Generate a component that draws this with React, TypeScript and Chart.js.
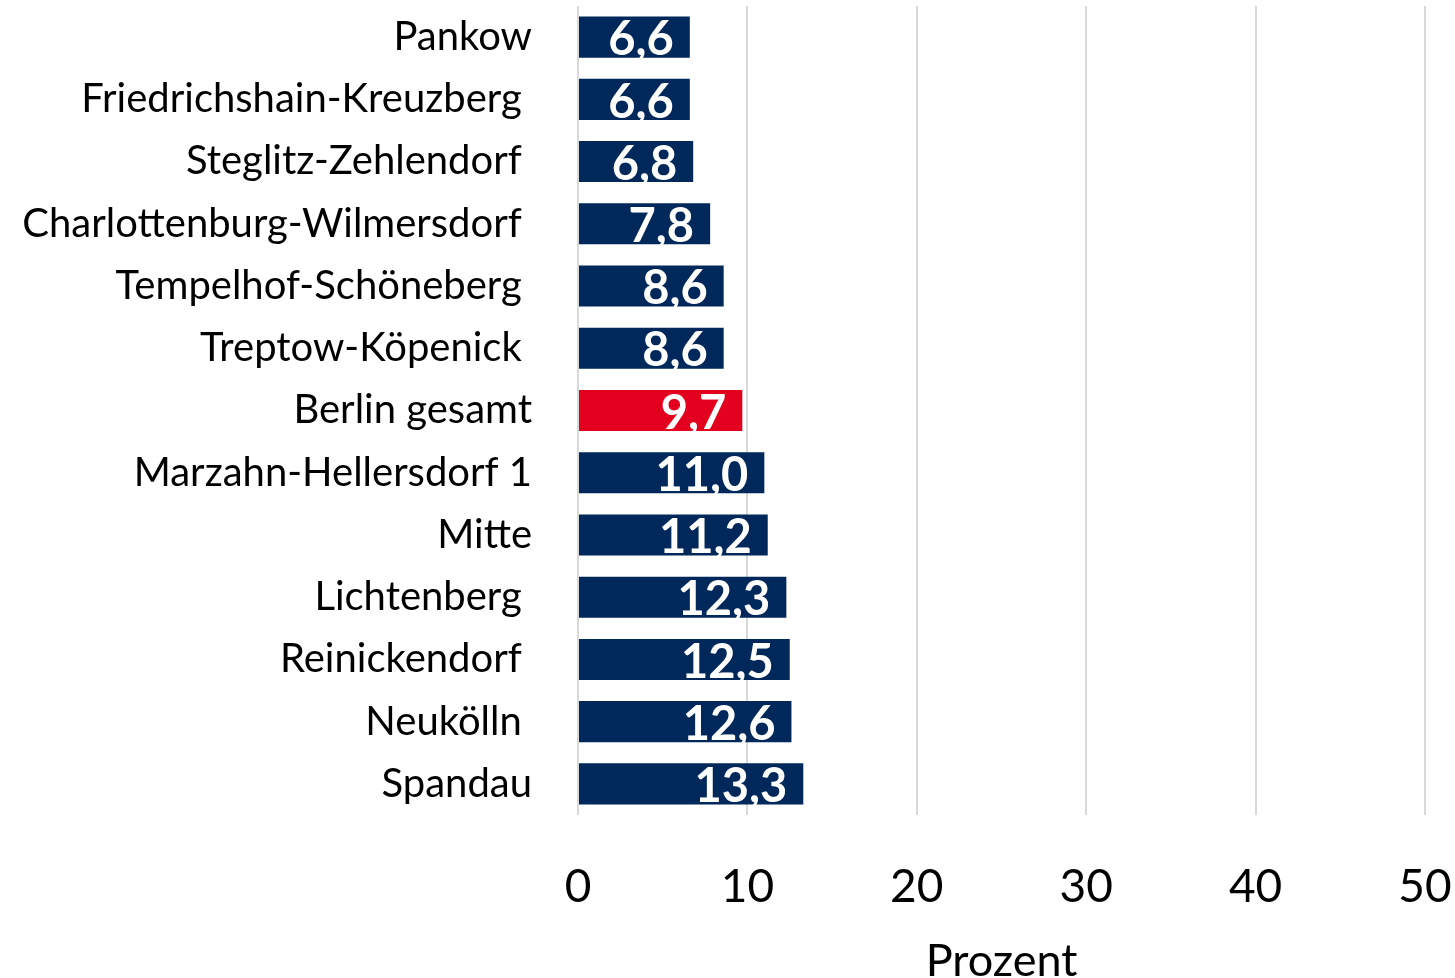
import React, { useEffect, useRef } from "react";
import { Chart, registerables } from "chart.js";

Chart.register(...registerables);

const categories = [
  "Pankow",
  "Friedrichshain-Kreuzberg ",
  "Steglitz-Zehlendorf ",
  "Charlottenburg-Wilmersdorf ",
  "Tempelhof-Schöneberg ",
  "Treptow-Köpenick ",
  "Berlin gesamt",
  "Marzahn-Hellersdorf 1",
  "Mitte",
  "Lichtenberg ",
  "Reinickendorf ",
  "Neukölln ",
  "Spandau",
];
const values = [6.6, 6.6, 6.8, 7.8, 8.6, 8.6, 9.7, 11.0, 11.2, 12.3, 12.5, 12.6, 13.3];
const highlight = "Berlin gesamt";
const xTicks = [0, 10, 20, 30, 40, 50];

const NAVY = "#00285A";
const RED = "#E3001F";
const FONT = "Lato";

const valueLabels = {
  id: "valueLabels",
  afterDatasetsDraw(chart: any) {
    const ctx = chart.ctx;
    const meta = chart.getDatasetMeta(0);
    ctx.save();
    ctx.fillStyle = "#ffffff";
    ctx.font = `bold 47px ${FONT}`;
    ctx.textAlign = "right";
    ctx.textBaseline = "middle";
    meta.data.forEach((bar: any, i: number) => {
      const txt = values[i].toFixed(1).replace(".", ",");
      ctx.fillText(txt, bar.x - 16, bar.y + 3);
    });
    ctx.restore();
  },
};

const zeroPad = (s: any) => {
  s.paddingTop = 0;
  s.paddingBottom = 0;
  s.paddingLeft = 0;
  s.paddingRight = 0;
};

export default function App() {
  const ref = useRef<HTMLCanvasElement | null>(null);
  useEffect(() => {
    if (!ref.current) return;
    const chart = new Chart(ref.current, {
      type: "bar",
      data: {
        labels: categories,
        datasets: [
          {
            data: values,
            backgroundColor: categories.map((c) => (c === highlight ? RED : NAVY)),
            borderWidth: 0,
            barPercentage: 0.66,
            categoryPercentage: 1,
          },
        ],
      },
      options: {
        indexAxis: "y",
        responsive: false,
        animation: false,
        layout: { padding: { top: 6, right: 30, left: 0, bottom: 0 } },
        plugins: { legend: { display: false }, tooltip: { enabled: false } },
        scales: {
          x: {
            min: 0,
            max: 50,
            afterBuildTicks: (s: any) => {
              s.ticks = xTicks.map((v) => ({ value: v }));
            },
            afterFit: (s: any) => {
              s.height = 163;
              zeroPad(s);
            },
            grid: { color: "#d9d9d9", lineWidth: 2, drawTicks: false },
            border: { display: false },
            ticks: {
              color: "#000",
              font: { family: FONT, size: 46 },
              padding: 45,
              maxRotation: 0,
            },
            title: {
              display: true,
              text: "Prozent",
              color: "#000",
              font: { family: FONT, size: 45 },
              padding: { top: 0, bottom: -10 },
            },
          },
          y: {
            afterFit: (s: any) => {
              s.width = 578;
              zeroPad(s);
            },
            grid: { display: false, drawTicks: false },
            border: { display: false },
            ticks: {
              color: "#000",
              font: { family: FONT, size: 40 },
              padding: 46,
            },
          },
        },
      },
      plugins: [valueLabels],
    });
    return () => chart.destroy();
  }, []);
  return (
    <div style={{ position: "absolute", left: 0, top: 0, width: 1455, height: 978, background: "#fff" }}>
      <canvas ref={ref} width={1455} height={978} style={{ display: "block" }} />
    </div>
  );
}
